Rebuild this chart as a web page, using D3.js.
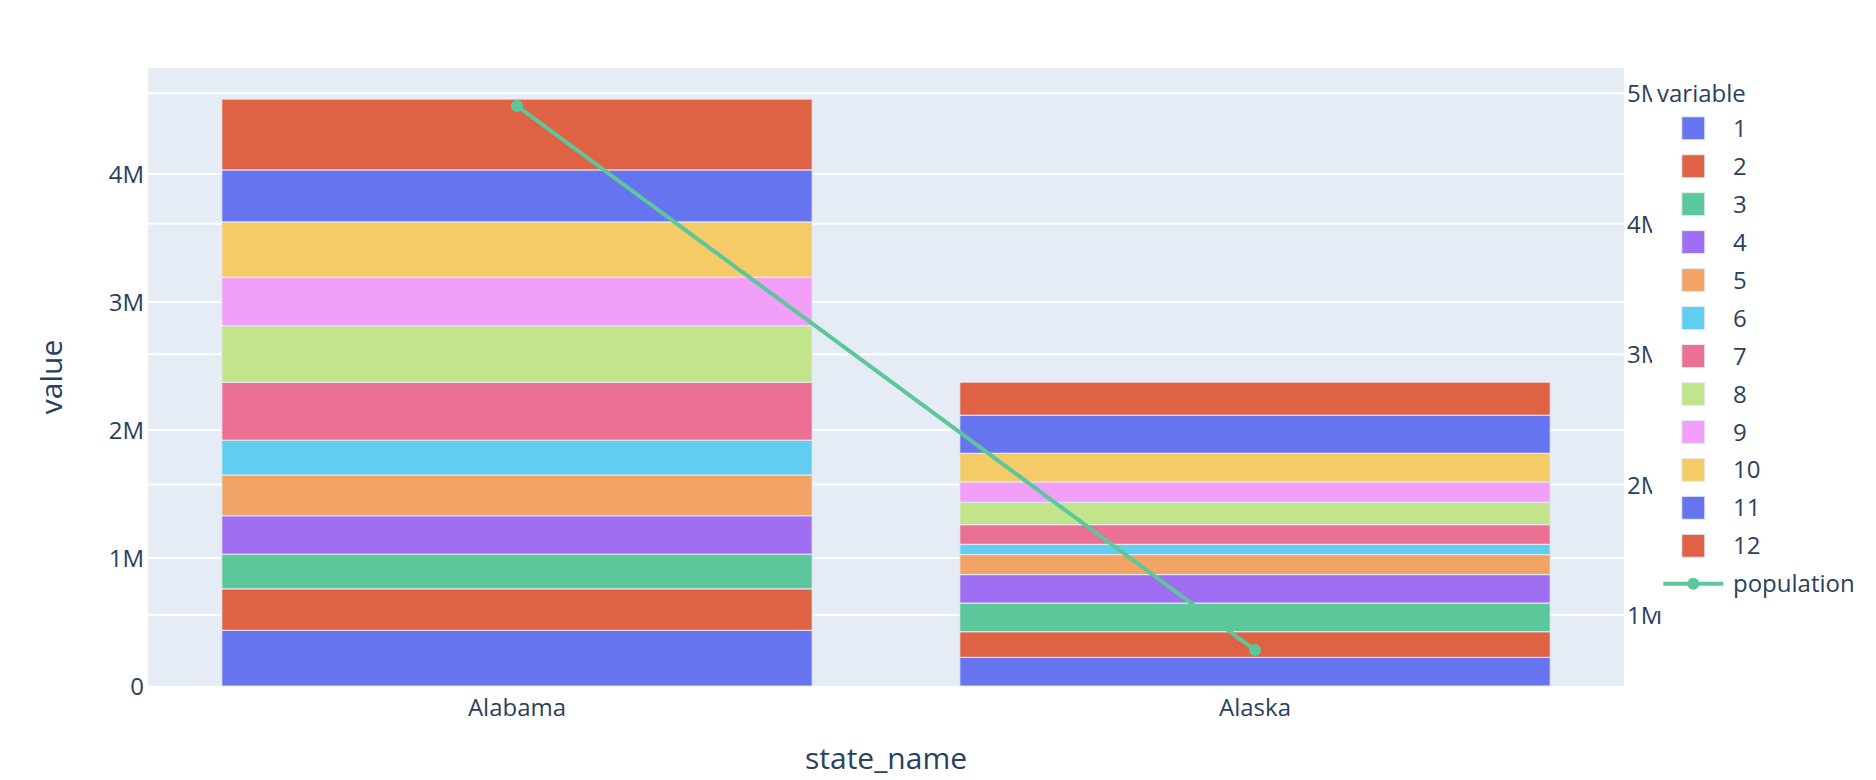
<!DOCTYPE html>
<html>
<head>
<meta charset="utf-8">
<script src="https://cdn.jsdelivr.net/npm/d3@7"></script>
<style>
  html, body { margin: 0; padding: 0; background: #ffffff; }
  svg { display: block; font-family: "Open Sans", "Noto Sans", sans-serif; }
</style>
</head>
<body>
<svg id="chart" width="1876" height="780"></svg>
<script>
// ---- data ----
const states = ["Alabama", "Alaska"];
const variables = ["1", "2", "3", "4", "5", "6", "7", "8", "9", "10", "11", "12"];
const alabamaValues = [435000, 324000, 271000, 300000, 318000, 272000, 453000, 441000, 379000, 432000, 406000, 553000];
const alaskaValues  = [224000, 200000, 224000, 222000, 156000, 81000, 153000, 175000, 159000, 224000, 297000, 258000];
const population = [4903185, 731545];
const leftTicks = [0, 1000000, 2000000, 3000000, 4000000];
const rightTicks = [1000000, 2000000, 3000000, 4000000, 5000000];
const y2Domain = [456000, 5194000];
const palette = ["#6674F0", "#DF6244", "#5CC79A", "#A06EF2", "#F2A467", "#61CEEF", "#EC7093", "#C2E58C", "#F19FF8", "#F5CB68"];

// ---- layout ----
const W = 1876, H = 780;
const plot = { left: 148, right: 1624, top: 68, bottom: 686 };
const textColor = "#2a3f5f";
const bg = "#E5ECF6";
const lineColor = "#5CC79A";

const svg = d3.select("#chart");

const valuesByState = [alabamaValues, alaskaValues];
const totals = valuesByState.map(v => d3.sum(v));

const x = d3.scaleBand().domain(states).range([plot.left, plot.right]).paddingInner(0.2).paddingOuter(0.1);
const y = d3.scaleLinear().domain([0, d3.max(totals) * 1.053]).range([plot.bottom, plot.top]);
const y2 = d3.scaleLinear().domain(y2Domain).range([plot.bottom, plot.top]);
const color = (i) => palette[i % palette.length];
const fmt = d => d === 0 ? "0" : (d / 1e6) + "M";

// background
svg.append("rect").attr("x", plot.left).attr("y", plot.top)
  .attr("width", plot.right - plot.left).attr("height", plot.bottom - plot.top)
  .attr("fill", bg);

// gridlines (left and right axes)
const grid = svg.append("g");
grid.selectAll("line.l").data(leftTicks.filter(d => d > 0)).join("line")
  .attr("x1", plot.left).attr("x2", plot.right)
  .attr("y1", d => y(d)).attr("y2", d => y(d))
  .attr("stroke", "#ffffff").attr("stroke-width", 2);
grid.selectAll("line.r").data(rightTicks).join("line")
  .attr("x1", plot.left).attr("x2", plot.right)
  .attr("y1", d => y2(d)).attr("y2", d => y2(d))
  .attr("stroke", "#ffffff").attr("stroke-width", 2);

// stacked bars
const stackData = states.map((s, i) => {
  const row = { state: s };
  variables.forEach((v, j) => row[v] = valuesByState[i][j]);
  return row;
});
const series = d3.stack().keys(variables)(stackData);
const barG = svg.append("g");
series.forEach((ser, k) => {
  barG.selectAll(null).data(ser).join("rect")
    .attr("x", d => x(d.data.state))
    .attr("width", x.bandwidth())
    .attr("y", d => y(d[1]))
    .attr("height", d => y(d[0]) - y(d[1]))
    .attr("fill", color(k))
    .attr("stroke", bg).attr("stroke-width", 1);
});

// population line
const cx = s => x(s) + x.bandwidth() / 2;
const linePts = states.map((s, i) => [cx(s), y2(population[i])]);
svg.append("path").datum(linePts)
  .attr("d", d3.line())
  .attr("fill", "none").attr("stroke", lineColor).attr("stroke-width", 4);
svg.selectAll("circle.pop").data(linePts).join("circle")
  .attr("cx", d => d[0]).attr("cy", d => d[1]).attr("r", 6)
  .attr("fill", lineColor);

// left axis labels
const leftAxis = d3.axisLeft(y).tickValues(leftTicks).tickFormat(fmt).tickSize(0).tickPadding(4);
const la = svg.append("g").attr("transform", `translate(${plot.left},0)`).call(leftAxis);
la.select(".domain").remove();
la.selectAll("text").attr("fill", textColor).style("font-size", "24px").attr("x", -4).attr("dy", "0.36em")
  .style("font-family", "'Open Sans', sans-serif");

// right axis labels
const rightAxis = d3.axisRight(y2).tickValues(rightTicks).tickFormat(fmt).tickSize(0).tickPadding(3);
const ra = svg.append("g").attr("transform", `translate(${plot.right},0)`).call(rightAxis);
ra.select(".domain").remove();
ra.selectAll("text").attr("fill", textColor).style("font-size", "24px").attr("x", 3).attr("dy", "0.36em")
  .style("font-family", "'Open Sans', sans-serif");

// bottom axis labels
const bottomAxis = d3.axisBottom(x).tickSize(0).tickPadding(0);
const ba = svg.append("g").attr("transform", `translate(0,${plot.bottom})`).call(bottomAxis);
ba.select(".domain").remove();
ba.selectAll("text").attr("fill", textColor).style("font-size", "24px").attr("y", 30).attr("dy", 0)
  .style("font-family", "'Open Sans', sans-serif");

// axis titles
svg.append("text").attr("x", (plot.left + plot.right) / 2).attr("y", 769)
  .attr("text-anchor", "middle").attr("fill", textColor).style("font-size", "30px")
  .text("state_name");
svg.append("text").attr("transform", `translate(62,${(plot.top + plot.bottom) / 2}) rotate(-90)`)
  .attr("text-anchor", "middle").attr("fill", textColor).style("font-size", "30px")
  .text("value");

// legend
const legend = svg.append("g");
const legX = 1652, legTop = plot.top, legBottom = 611;
legend.append("rect").attr("x", legX).attr("y", legTop).attr("width", W - legX).attr("height", legBottom - legTop)
  .attr("fill", "#ffffff");
legend.append("text").attr("x", 1657).attr("y", 101.5).attr("fill", textColor).style("font-size", "24px")
  .text("variable");
const itemY0 = 128.3, itemStep = 37.95, symX = 1693.3, labelX = 1733;
variables.forEach((v, k) => {
  const cy = itemY0 + k * itemStep;
  legend.append("rect").attr("x", symX - 11.5).attr("y", cy - 11.5).attr("width", 23).attr("height", 23)
    .attr("fill", color(k)).attr("stroke", bg).attr("stroke-width", 1);
  legend.append("text").attr("x", labelX).attr("y", cy).attr("dy", "0.36em").attr("fill", textColor)
    .style("font-size", "24px").text(v);
});
const popY = itemY0 + variables.length * itemStep;
legend.append("line").attr("x1", symX - 30).attr("x2", symX + 30).attr("y1", popY).attr("y2", popY)
  .attr("stroke", lineColor).attr("stroke-width", 4);
legend.append("circle").attr("cx", symX).attr("cy", popY).attr("r", 6).attr("fill", lineColor);
legend.append("text").attr("x", labelX).attr("y", popY).attr("dy", "0.36em").attr("fill", textColor)
  .style("font-size", "24px").text("population");
</script>
</body>
</html>
